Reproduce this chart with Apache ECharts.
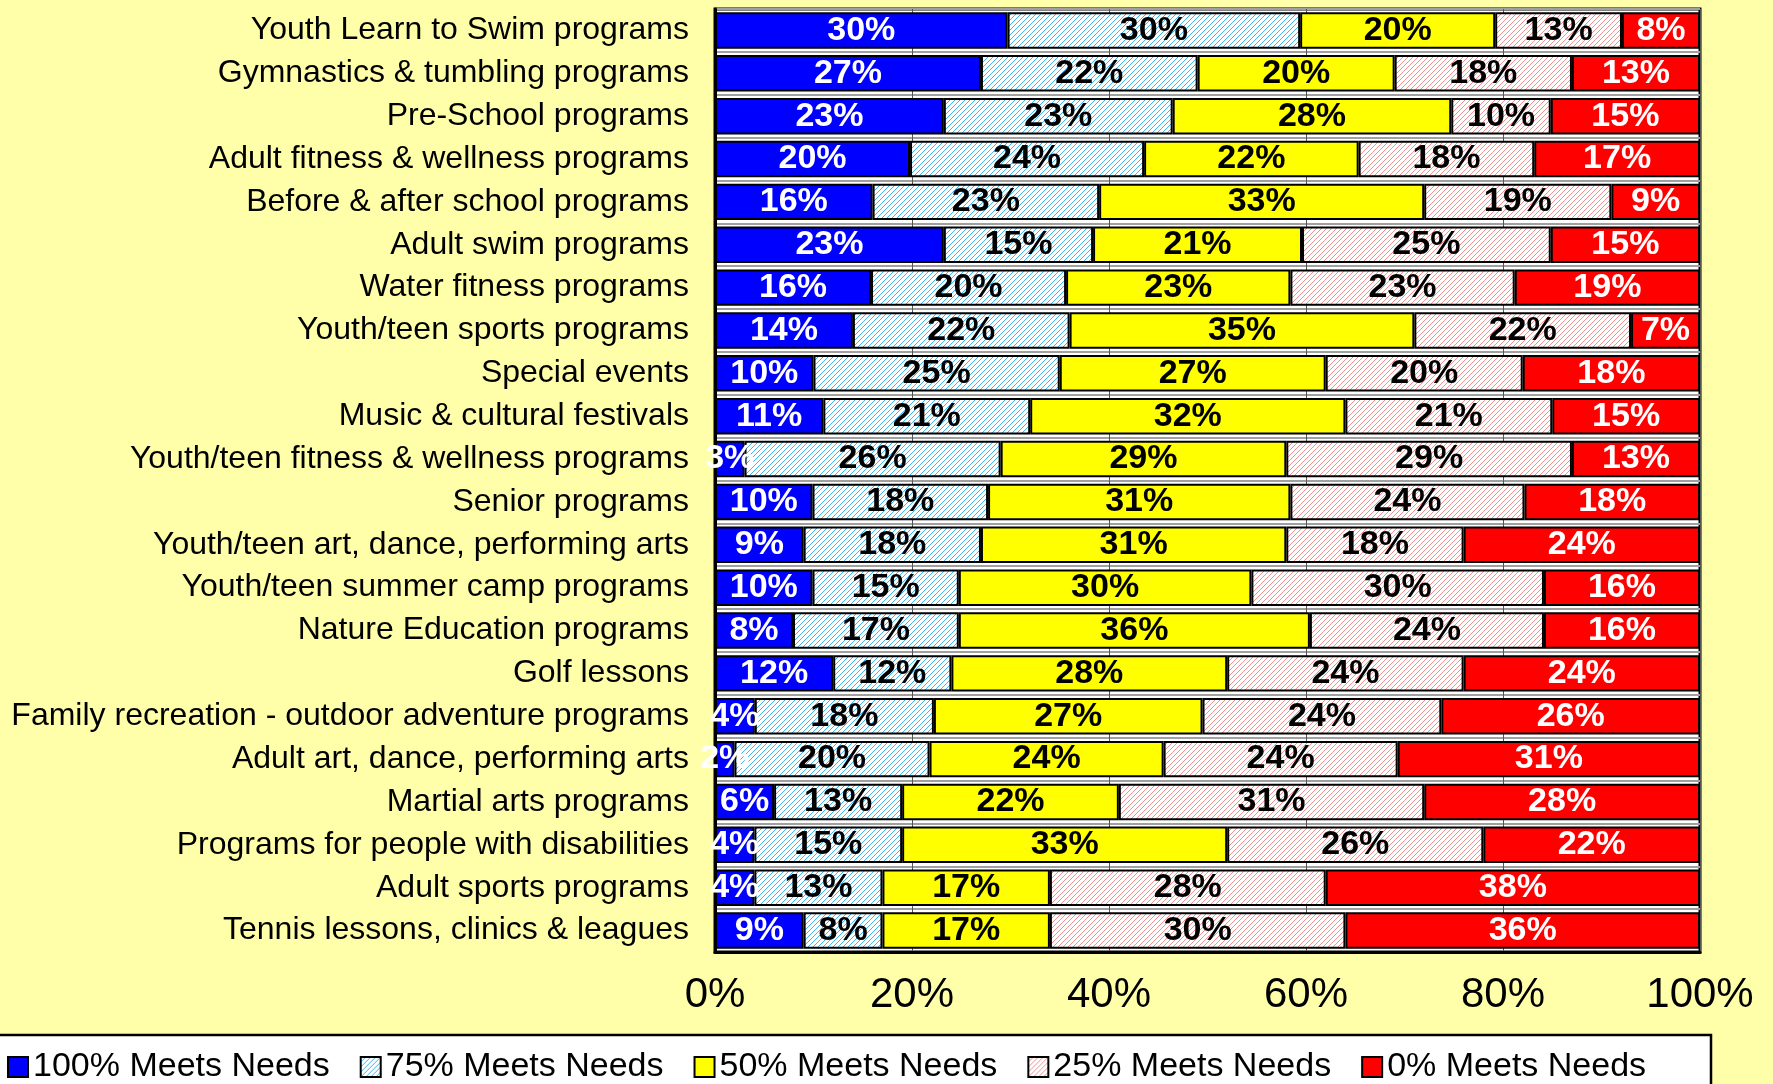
<!DOCTYPE html>
<html>
<head>
<meta charset="utf-8">
<script src="https://cdn.jsdelivr.net/npm/echarts@6/dist/echarts.min.js"></script>
<style>
  html, body { margin: 0; padding: 0; background: #ffffaa; }
  #chart { width: 1773px; height: 1084px; }
</style>
</head>
<body>
<div id="chart"></div>
<script>
const categories = [
  'Youth Learn to Swim programs',
  'Gymnastics & tumbling programs',
  'Pre-School programs',
  'Adult fitness & wellness programs',
  'Before & after school programs',
  'Adult swim programs',
  'Water fitness programs',
  'Youth/teen sports programs',
  'Special events',
  'Music & cultural festivals',
  'Youth/teen fitness & wellness programs',
  'Senior programs',
  'Youth/teen art, dance, performing arts',
  'Youth/teen summer camp programs',
  'Nature Education programs',
  'Golf lessons',
  'Family recreation - outdoor adventure programs',
  'Adult art, dance, performing arts',
  'Martial arts programs',
  'Programs for people with disabilities',
  'Adult sports programs',
  'Tennis lessons, clinics & leagues'
];
const seriesNames = ['100% Meets Needs', '75% Meets Needs', '50% Meets Needs', '25% Meets Needs', '0% Meets Needs'];
const meets100 = [30, 27, 23, 20, 16, 23, 16, 14, 10, 11, 3, 10, 9, 10, 8, 12, 4, 2, 6, 4, 4, 9];
const meets75  = [30, 22, 23, 24, 23, 15, 20, 22, 25, 21, 26, 18, 18, 15, 17, 12, 18, 20, 13, 15, 13, 8];
const meets50  = [20, 20, 28, 22, 33, 21, 23, 35, 27, 32, 29, 31, 31, 30, 36, 28, 27, 24, 22, 33, 17, 17];
const meets25  = [13, 18, 10, 18, 19, 25, 23, 22, 20, 21, 29, 24, 18, 30, 24, 24, 24, 24, 31, 26, 28, 30];
const meets0   = [8, 13, 15, 17, 9, 15, 19, 7, 18, 15, 13, 18, 24, 16, 16, 24, 26, 31, 28, 22, 38, 36];
const xTicks = [0, 20, 40, 60, 80, 100];

const FONT = "'Liberation Sans', Arial, sans-serif";

// diagonal hatch pattern like the original fills
function hatch(color) {
  const s = 5;
  const c = document.createElement('canvas');
  c.width = s; c.height = s;
  const ctx = c.getContext('2d');
  ctx.fillStyle = '#ffffff';
  ctx.fillRect(0, 0, s, s);
  ctx.strokeStyle = color;
  ctx.lineWidth = 1;
  ctx.beginPath();
  ctx.moveTo(0, s); ctx.lineTo(s, 0);
  ctx.moveTo(-1, 1); ctx.lineTo(1, -1);
  ctx.moveTo(s - 1, s + 1); ctx.lineTo(s + 1, s - 1);
  ctx.stroke();
  return { image: c, repeat: 'repeat' };
}

const rows = [meets100, meets75, meets50, meets25, meets0];
const totals = categories.map((_, i) => rows.reduce((a, r) => a + r[i], 0));
const fills = ['#0000ff', hatch('#3fb4f0'), '#ffff00', hatch('#f29090'), '#ff0000'];
const labelColors = ['#ffffff', '#000000', '#000000', '#000000', '#ffffff'];

const chart = echarts.init(document.getElementById('chart'));
chart.setOption({
  backgroundColor: '#ffffaa',
  animation: false,
  grid: {
    left: 715, right: 73, top: 9, bottom: 132,
    show: true, backgroundColor: '#ffffff',
    borderColor: '#000', borderWidth: 3
  },
  legend: {
    data: seriesNames,
    icon: 'rect',
    left: 2, top: 1045,
    itemWidth: 20, itemHeight: 20, itemGap: 30,
    textStyle: { fontFamily: FONT, fontSize: 34, color: '#000' }
  },
  graphic: [{
    type: 'rect', z: 0,
    shape: { x: -5, y: 1035, width: 1716, height: 60 },
    style: { fill: '#ffffff', stroke: '#000', lineWidth: 2.5 }
  }],
  xAxis: {
    type: 'value', min: 0, max: 100, interval: 20,
    axisLine: { show: true, lineStyle: { color: '#000', width: 3 } },
    axisTick: { show: false },
    splitLine: { show: true, lineStyle: { color: '#555', width: 1 } },
    axisLabel: {
      formatter: v => xTicks.includes(v) ? v + '%' : '',
      fontFamily: FONT, fontSize: 42, color: '#000', margin: 22
    }
  },
  yAxis: {
    type: 'category', data: categories, inverse: true,
    axisLine: { show: true, lineStyle: { color: '#000', width: 3 } },
    axisTick: { show: false },
    splitLine: { show: true, lineStyle: { color: '#a0a0a0', width: 2 } },
    axisLabel: { fontFamily: FONT, fontSize: 32, color: '#000', margin: 26 }
  },
  series: rows.map((arr, k) => ({
    name: seriesNames[k],
    type: 'bar',
    stack: 'total',
    barCategoryGap: '15%',
    data: arr.map((v, i) => v / totals[i] * 100),
    itemStyle: { color: fills[k], borderColor: '#000', borderWidth: 2 },
    label: {
      show: true, position: 'inside',
      formatter: p => arr[p.dataIndex] + '%',
      fontFamily: FONT, fontSize: 34, fontWeight: 'bold',
      color: labelColors[k]
    }
  }))
});
</script>
</body>
</html>
